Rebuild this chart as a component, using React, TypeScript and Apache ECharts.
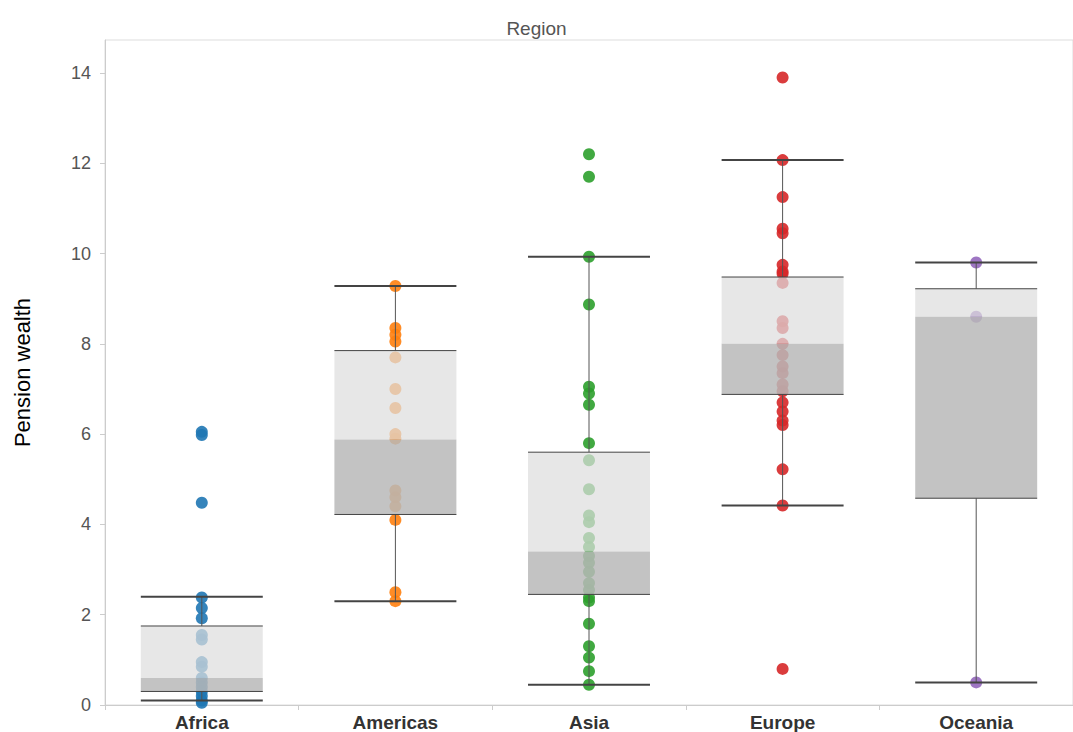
import { useEffect, useRef } from 'react'
import * as echarts from 'echarts'

const regions = ['Africa', 'Americas', 'Asia', 'Europe', 'Oceania']
const colors = ['#1f77b4', '#ff7f0e', '#2ca02c', '#d62728', '#9467bd']

// [whisker low, Q1, median, Q3, whisker high]
const boxStats = [
  [0.1, 0.3, 0.6, 1.75, 2.4],
  [2.3, 4.22, 5.88, 7.85, 9.28],
  [0.45, 2.45, 3.4, 5.6, 9.93],
  [4.42, 6.88, 8.0, 9.48, 12.07],
  [0.5, 4.58, 8.6, 9.22, 9.8],
]

const africa = [6.05, 5.98, 4.48, 2.38, 2.15, 1.92, 1.55, 1.45, 0.95, 0.85, 0.6, 0.5, 0.4, 0.3, 0.2, 0.1, 0.05]
const americas = [9.28, 8.35, 8.2, 8.05, 7.7, 7.0, 6.58, 6.0, 5.9, 4.75, 4.6, 4.4, 4.1, 2.5, 2.3]
const asia = [12.2, 11.7, 9.93, 8.87, 7.05, 6.9, 6.65, 5.8, 5.42, 4.78, 4.2, 4.05, 3.7, 3.5, 3.3, 3.15, 2.95, 2.7, 2.55, 2.38, 2.3, 1.8, 1.3, 1.05, 0.75, 0.45]
const europe = [13.9, 12.07, 11.25, 10.55, 10.45, 9.75, 9.6, 9.55, 9.35, 8.5, 8.35, 8.0, 7.75, 7.5, 7.35, 7.1, 6.95, 6.7, 6.5, 6.3, 6.2, 5.22, 4.42, 0.8]
const oceania = [9.8, 8.6, 0.5]
const points = [africa, americas, asia, europe, oceania]

export default function App() {
  const ref = useRef<HTMLDivElement>(null)

  useEffect(() => {
    if (!ref.current) return
    const chart = echarts.init(ref.current, undefined, { renderer: 'svg' })
    chart.setOption({
      animation: false,
      textStyle: { fontFamily: 'Arial, Liberation Sans, sans-serif' },
      title: {
        text: 'Region', left: 'center', top: 14,
        textStyle: { color: '#555', fontSize: 19, fontWeight: 'normal' },
      },
      grid: { left: 105, right: 0, top: 40, bottom: 24, show: true, borderColor: '#ddd', borderWidth: 1 },
      xAxis: {
        type: 'category', data: regions,
        axisLine: { lineStyle: { color: '#ccc' } },
        axisTick: { show: true, alignWithLabel: false, length: 5, lineStyle: { color: '#ccc' } },
        axisLabel: { color: '#333', fontSize: 19, fontWeight: 'bold', margin: 8 },
      },
      yAxis: {
        type: 'value', min: 0, max: 14.73, interval: 2,
        name: 'Pension wealth', nameLocation: 'middle', nameGap: 72,
        nameTextStyle: { color: '#000', fontSize: 22 },
        axisLine: { show: true, lineStyle: { color: '#ccc' } },
        axisTick: { show: true, length: 5, lineStyle: { color: '#ccc' } },
        axisLabel: { color: '#555', fontSize: 18, margin: 14, showMaxLabel: false,
          formatter: (v: number) => (v > 14 ? '' : String(v)) },
        splitLine: { show: false },
      },
      series: [
        ...points.map((vals, i) => ({
          type: 'scatter',
          data: vals.map(v => [i, v]),
          symbolSize: 12,
          itemStyle: { color: colors[i], opacity: 0.9 },
          z: 2,
        })),
        {
          type: 'custom',
          z: 3,
          data: boxStats.map((s, i) => [i, ...s]),
          renderItem: (_p: any, api: any) => {
            const i = api.value(0)
            const w = api.size([1, 0])[0] * 0.63
            const [lo, q1, med, q3, hi] = [1, 2, 3, 4, 5].map(k => api.value(k))
            const x = api.coord([i, 0])[0]
            const y = (v: number) => api.coord([i, v])[1]
            const l = x - w / 2
            return {
              type: 'group',
              children: [
                { type: 'line', shape: { x1: x, y1: y(hi), x2: x, y2: y(q3) }, style: { stroke: '#555', lineWidth: 1 } },
                { type: 'line', shape: { x1: x, y1: y(q1), x2: x, y2: y(lo) }, style: { stroke: '#555', lineWidth: 1 } },
                { type: 'rect', shape: { x: l, y: y(q3), width: w, height: y(med) - y(q3) }, style: { fill: 'rgba(222,222,222,0.72)' } },
                { type: 'rect', shape: { x: l, y: y(med), width: w, height: y(q1) - y(med) }, style: { fill: 'rgba(185,185,185,0.85)' } },
                { type: 'line', shape: { x1: l, y1: y(q3), x2: l + w, y2: y(q3) }, style: { stroke: '#444', lineWidth: 1 } },
                { type: 'line', shape: { x1: l, y1: y(q1), x2: l + w, y2: y(q1) }, style: { stroke: '#444', lineWidth: 1 } },
                { type: 'line', shape: { x1: l, y1: y(hi), x2: l + w, y2: y(hi) }, style: { stroke: '#444', lineWidth: 2 } },
                { type: 'line', shape: { x1: l, y1: y(lo), x2: l + w, y2: y(lo) }, style: { stroke: '#444', lineWidth: 2 } },
              ],
            }
          },
        },
      ],
    })
    return () => chart.dispose()
  }, [])

  return <div ref={ref} style={{ width: 1073, height: 732, position: 'absolute', left: 0, top: 0 }} />
}
